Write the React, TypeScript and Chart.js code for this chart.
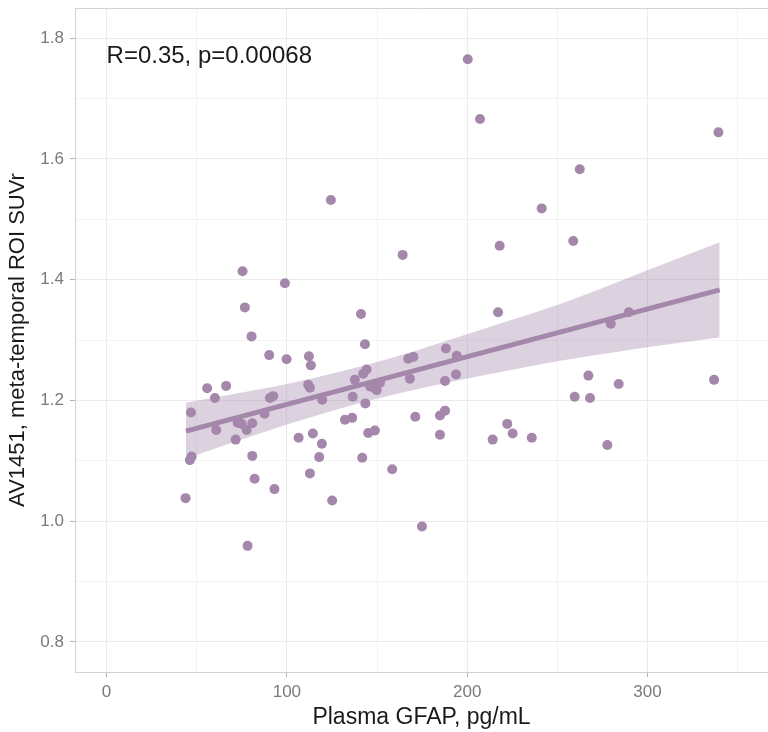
import { useEffect, useRef } from "react";
import { Chart, registerables } from "chart.js";

Chart.register(...registerables);

// Scatter points: Plasma GFAP (pg/mL) vs AV1451 meta-temporal ROI SUVr
const gfap = [
  200.3, 207.1, 339.3, 262.4, 241.3, 124.4, 258.8, 218.0, 164.2, 75.4,
  98.9, 76.7, 141.1, 217.1, 289.6, 279.6, 80.4, 143.3, 188.2, 90.2,
  99.8, 112.2, 113.3, 167.3, 170.1, 194.2, 55.8, 66.3, 60.1, 111.8,
  112.8, 90.6, 92.4, 119.6, 137.7, 142.3, 144.2, 146.1, 148.8, 151.6,
  149.8, 168.2, 187.7, 193.8, 136.5, 143.5, 267.2, 284.0, 336.9, 259.6,
  268.1, 46.8, 60.8, 72.7, 74.9, 80.8, 77.7, 87.6, 71.6, 106.5,
  114.4, 119.4, 132.2, 136.2, 171.2, 184.9, 187.7, 184.9, 145.1, 148.8,
  222.2, 225.2, 214.1, 235.8, 277.7, 47.2, 46.2, 80.8, 117.9, 141.8,
  112.8, 82.1, 158.4, 93.1, 43.8, 125.1, 174.9, 78.2,
];
const suvr = [
  1.765, 1.666, 1.644, 1.583, 1.518, 1.532, 1.464, 1.456, 1.441, 1.414,
  1.394, 1.354, 1.343, 1.346, 1.346, 1.327, 1.306, 1.293, 1.286, 1.275,
  1.268, 1.273, 1.258, 1.269, 1.272, 1.274, 1.220, 1.224, 1.204, 1.226,
  1.221, 1.204, 1.207, 1.201, 1.234, 1.244, 1.251, 1.223, 1.220, 1.229,
  1.217, 1.236, 1.232, 1.243, 1.206, 1.195, 1.241, 1.227, 1.234, 1.206,
  1.204, 1.180, 1.151, 1.163, 1.161, 1.162, 1.151, 1.178, 1.135, 1.138,
  1.145, 1.128, 1.168, 1.171, 1.173, 1.175, 1.183, 1.143, 1.146, 1.150,
  1.161, 1.145, 1.135, 1.138, 1.126, 1.107, 1.101, 1.108, 1.106, 1.105,
  1.079, 1.070, 1.086, 1.053, 1.038, 1.034, 0.991, 0.959,
];

// Regression line end points
const fitX = [44, 340];
const fitY = [1.149, 1.383];

// Confidence band
const bandX = [44, 70, 100, 130, 160, 190, 220, 250, 280, 310, 340];
const bandUpper = [1.196, 1.210, 1.227, 1.248, 1.272, 1.300, 1.329, 1.358, 1.392, 1.427, 1.462];
const bandLower = [1.103, 1.130, 1.160, 1.187, 1.210, 1.230, 1.248, 1.265, 1.279, 1.292, 1.304];

// Axes
const xGridValues = [0, 50, 100, 150, 200, 250, 300, 350];
const xMajorValues = [0, 100, 200, 300];
const yGridValues = [0.8, 0.9, 1.0, 1.1, 1.2, 1.3, 1.4, 1.5, 1.6, 1.7, 1.8];
const yMajorValues = [0.8, 1.0, 1.2, 1.4, 1.6, 1.8];
const xRange = [-17.5, 366.8];
const yRange = [0.75, 1.85];

const xTitle = "Plasma GFAP, pg/mL";
const yTitle = "AV1451, meta-temporal ROI SUVr";
const annotationText = "R=0.35, p=0.00068";
const annotationPos = { x: 0, y: 1.77 };

const POINT = "#a487aa";
const BAND = "rgba(164,135,170,0.38)";
const FONT = "'Liberation Sans', Arial, Helvetica, sans-serif";

const isMajor = (v: number, majors: number[]) =>
  majors.some((m) => Math.abs(m - v) < 1e-6);

export default function App() {
  const ref = useRef<HTMLCanvasElement | null>(null);

  useEffect(() => {
    if (!ref.current) return;
    Chart.defaults.font.family = FONT;

    const extras = {
      id: "extras",
      afterDraw(chart: any) {
        const { ctx, chartArea, scales } = chart;
        ctx.save();
        ctx.strokeStyle = "#d3d3d3";
        ctx.lineWidth = 1;
        ctx.beginPath();
        ctx.moveTo(chartArea.left, chartArea.top + 0.5);
        ctx.lineTo(chartArea.right, chartArea.top + 0.5);
        ctx.stroke();
        ctx.fillStyle = "#1a1a1a";
        ctx.font = `24px ${FONT}`;
        ctx.textAlign = "left";
        ctx.textBaseline = "middle";
        ctx.fillText(
          annotationText,
          scales.x.getPixelForValue(annotationPos.x),
          scales.y.getPixelForValue(annotationPos.y)
        );
        ctx.restore();
      },
    };

    const chart = new Chart(ref.current, {
      type: "scatter",
      data: {
        datasets: [
          {
            type: "scatter",
            data: gfap.map((x, i) => ({ x, y: suvr[i] })),
            backgroundColor: POINT,
            borderWidth: 0,
            pointRadius: 5,
            pointHoverRadius: 5,
          },
          {
            type: "line",
            data: fitX.map((x, i) => ({ x, y: fitY[i] })),
            borderColor: POINT,
            borderWidth: 5,
            pointRadius: 0,
            fill: false,
          },
          {
            type: "line",
            data: bandX.map((x, i) => ({ x, y: bandUpper[i] })),
            borderWidth: 0,
            borderColor: "rgba(0,0,0,0)",
            backgroundColor: BAND,
            pointRadius: 0,
            fill: "+1",
            cubicInterpolationMode: "monotone",
          },
          {
            type: "line",
            data: bandX.map((x, i) => ({ x, y: bandLower[i] })),
            borderWidth: 0,
            borderColor: "rgba(0,0,0,0)",
            pointRadius: 0,
            fill: false,
            cubicInterpolationMode: "monotone",
          },
        ] as any,
      },
      options: {
        animation: false,
        responsive: false,
        devicePixelRatio: 1,
        layout: { autoPadding: false, padding: { top: 8, right: 0, left: 0, bottom: 0 } },
        plugins: { legend: { display: false }, tooltip: { enabled: false } },
        scales: {
          x: {
            type: "linear",
            min: xRange[0],
            max: xRange[1],
            afterBuildTicks: (axis: any) => {
              axis.ticks = xGridValues.map((v) => ({ value: v }));
            },
            afterFit: (axis: any) => {
              axis.height = 60;
              axis.paddingLeft = 0;
              axis.paddingRight = 0;
            },
            grid: {
              color: (c: any) => (isMajor(c.tick?.value, xMajorValues) ? "#ebebeb" : "#f3f3f3"),
              tickColor: (c: any) => (isMajor(c.tick?.value, xMajorValues) ? "#b3b3b3" : "rgba(0,0,0,0)"),
              tickLength: 5,
            },
            border: { color: "#d3d3d3", width: 1 },
            ticks: {
              autoSkip: false,
              maxRotation: 0,
              padding: 5,
              color: "#7a7a7a",
              font: { size: 17 },
              callback: (v: any) => (isMajor(Number(v), xMajorValues) ? String(v) : ""),
            },
            title: {
              display: true,
              text: xTitle,
              color: "#1a1a1a",
              font: { size: 23 },
              padding: { top: 0, bottom: 1 },
            },
          },
          y: {
            type: "linear",
            min: yRange[0],
            max: yRange[1],
            afterBuildTicks: (axis: any) => {
              axis.ticks = yGridValues.map((v) => ({ value: v }));
            },
            afterFit: (axis: any) => {
              axis.width = 75;
              axis.paddingTop = 0;
              axis.paddingBottom = 0;
            },
            grid: {
              color: (c: any) => (isMajor(c.tick?.value, yMajorValues) ? "#ebebeb" : "#f3f3f3"),
              tickColor: (c: any) => (isMajor(c.tick?.value, yMajorValues) ? "#b3b3b3" : "rgba(0,0,0,0)"),
              tickLength: 5,
            },
            border: { color: "#d3d3d3", width: 1 },
            ticks: {
              autoSkip: false,
              padding: 6,
              color: "#7a7a7a",
              font: { size: 17 },
              callback: (v: any) => (isMajor(Number(v), yMajorValues) ? Number(v).toFixed(1) : ""),
            },
            title: {
              display: true,
              text: yTitle,
              color: "#1a1a1a",
              font: { size: 22 },
              padding: { top: 5, bottom: 0 },
            },
          },
        },
      },
      plugins: [extras],
    });

    return () => chart.destroy();
  }, []);

  return (
    <div style={{ position: "absolute", left: 0, top: 0, width: 768, height: 732 }}>
      <canvas ref={ref} width={768} height={732} style={{ width: 768, height: 732 }} />
    </div>
  );
}
